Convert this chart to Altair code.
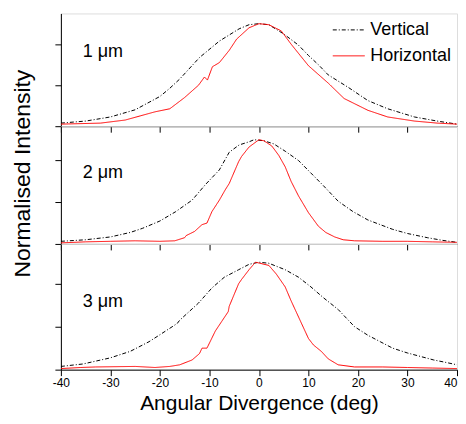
import altair as alt
import pandas as pd

FONT = "Liberation Sans"

# ---- data ----
# Panel 1 (1 um)
x_v1 = [-40, -35, -30, -25, -20, -18, -16, -12, -8, -4, -2, 0, 2, 5, 8, 10, 12, 14, 18, 22, 26, 31.4, 36, 40]
y_v1 = [0.03, 0.05, 0.09, 0.16, 0.29, 0.37, 0.46, 0.67, 0.83, 0.95, 0.99, 1.0, 0.99, 0.90, 0.79, 0.69, 0.60, 0.50, 0.38, 0.25, 0.17, 0.09, 0.05, 0.02]
x_h1 = [-40, -32, -27, -24, -21, -18, -15, -12.2, -11, -10.4, -9.4, -8, -6, -4.5, -2, 0, 2, 4.5, 6.5, 10, 14, 17.2, 22, 26, 31.4, 36, 40]
y_h1 = [0.02, 0.03, 0.06, 0.10, 0.14, 0.17, 0.28, 0.40, 0.48, 0.45, 0.58, 0.62, 0.74, 0.85, 0.96, 1.0, 0.99, 0.93, 0.80, 0.59, 0.42, 0.27, 0.155, 0.09, 0.05, 0.03, 0.02]

# Panel 2 (2 um)
x_v2 = [-40, -35, -30, -26, -23.5, -20, -16.8, -13.5, -10.8, -8, -6, -4, -2, -1, 1, 3, 5.3, 8, 10.5, 13, 16, 19, 22, 27, 30, 34, 37, 40]
y_v2 = [0.025, 0.04, 0.067, 0.11, 0.15, 0.22, 0.31, 0.42, 0.57, 0.71, 0.88, 0.95, 0.98, 1.0, 0.99, 0.96, 0.89, 0.80, 0.68, 0.56, 0.41, 0.31, 0.23, 0.14, 0.10, 0.06, 0.035, 0.015]
x_h2 = [-40, -35, -30, -25, -20, -17, -15, -14.7, -13, -11.5, -10.5, -9.5, -8, -6.8, -6, -4.1, -3.5, -2, 0, 1, 2.6, 4, 5.3, 6.5, 8, 10, 12, 13.5, 15.3, 17, 19.3, 25, 30, 35, 40]
y_h2 = [0.01, 0.02, 0.025, 0.03, 0.025, 0.03, 0.06, 0.08, 0.12, 0.185, 0.20, 0.31, 0.42, 0.52, 0.58, 0.79, 0.84, 0.93, 1.0, 0.99, 0.94, 0.85, 0.74, 0.60, 0.46, 0.30, 0.17, 0.11, 0.067, 0.04, 0.03, 0.025, 0.025, 0.02, 0.015]

# Panel 3 (3 um)
x_v3 = [-40, -35.5, -30, -26, -22.2, -20, -16.5, -16, -12.2, -9.5, -7, -4.1, -2, 0, 2, 5.3, 8, 10.5, 13, 16, 19.3, 22, 24.5, 27, 30, 35.3, 38, 40]
y_v3 = [0.03, 0.053, 0.11, 0.17, 0.26, 0.325, 0.43, 0.46, 0.62, 0.76, 0.86, 0.93, 0.98, 1.0, 0.99, 0.93, 0.86, 0.77, 0.67, 0.56, 0.40, 0.32, 0.26, 0.20, 0.155, 0.09, 0.065, 0.045]
x_h3 = [-40, -36, -33, -25, -21, -18, -16, -13.5, -12, -11.5, -10.5, -8.8, -7.5, -6.2, -6, -4.1, -3.5, -2, -0.7, 2, 3.5, 5.3, 6.5, 8, 10, 11, 12.6, 14, 16, 19.3, 25, 30, 35, 40]
y_h3 = [0.01, 0.02, 0.025, 0.03, 0.02, 0.03, 0.045, 0.09, 0.15, 0.20, 0.20, 0.36, 0.45, 0.54, 0.59, 0.80, 0.84, 0.93, 1.0, 0.97, 0.89, 0.77, 0.64, 0.49, 0.29, 0.23, 0.17, 0.10, 0.045, 0.025, 0.025, 0.02, 0.015, 0.01]

series_names = ["Vertical", "Horizontal"]
series_colors = ["#000000", "#ff0000"]
series_dash = [[4, 2, 1, 2], [1, 0]]

panel_labels = ["1 \u03bcm", "2 \u03bcm", "3 \u03bcm"]
label_x = [-35.6, -35.6, -35.6]
label_y = [0.72, 0.68, 0.63]
y_tops = [1.1, 1.13, 1.17]
heights = [113, 118, 126]

x_ticks = list(range(-40, 45, 5))
y_ticks = [round(i * 0.1, 1) for i in range(12)]


def panel_df(xv, yv, xh, yh):
    return pd.DataFrame({
        "x": list(xv) + list(xh),
        "y": list(yv) + list(yh),
        "series": ["Vertical"] * len(xv) + ["Horizontal"] * len(xh),
    })


data = [
    panel_df(x_v1, y_v1, x_h1, y_h1),
    panel_df(x_v2, y_v2, x_h2, y_h2),
    panel_df(x_v3, y_v3, x_h3, y_h3),
]

legend = alt.Legend(
    title=None, orient="none", legendX=272, legendY=0, padding=0,
    labelFont=FONT, labelFontSize=18, labelColor="black", labelLimit=300,
    symbolType="stroke", symbolSize=1024, symbolStrokeWidth=1,
    rowPadding=-13, labelOffset=5,
)

x_tick_size = {"condition": {"test": "datum.value % 10 === 0", "value": 6}, "value": 3}
y_tick_size = {"condition": {"test": "abs(datum.value * 5 - round(datum.value * 5)) < 0.001", "value": 6}, "value": 3}
x_label_align = {"condition": {"test": "datum.value === 40", "value": "right"}, "value": "center"}

panels = []
for i in range(3):
    last = i == 2
    if last:
        x_axis = alt.Axis(
            values=x_ticks, tickSize=x_tick_size, grid=False,
            labelExpr="datum.value % 10 === 0 ? '' + datum.value : ''",
            labelAlign=x_label_align,
            labelFont=FONT, labelFontSize=12, labelColor="black", labelPadding=2,
            title="Angular Divergence (deg)", titleFont=FONT, titleFontSize=21,
            titleFontWeight="normal", titleColor="black", titlePadding=4,
            domainColor="black", tickColor="black",
        )
    else:
        x_axis = alt.Axis(
            values=x_ticks, tickSize=x_tick_size, grid=False, labels=False,
            title=None, domainColor="black", tickColor="black",
        )
    if i == 1:
        y_axis = alt.Axis(
            values=y_ticks, tickSize=y_tick_size, grid=False, labels=False,
            title="Normalised Intensity", titleFont=FONT, titleFontSize=23,
            titleFontWeight="normal", titleColor="black", titlePadding=20,
            titleY=47,
            domainColor="black", tickColor="black",
        )
    else:
        y_axis = alt.Axis(
            values=y_ticks, tickSize=y_tick_size, grid=False, labels=False,
            title=None, domainColor="black", tickColor="black",
        )

    x_enc = alt.X("x:Q", scale=alt.Scale(domain=[-40, 40], nice=False), axis=x_axis)
    y_enc = alt.Y("y:Q", scale=alt.Scale(domain=[0, y_tops[i]], nice=False, zero=False), axis=y_axis)

    lines = alt.Chart(data[i]).mark_line(strokeWidth=1, clip=True).encode(
        x=x_enc,
        y=y_enc,
        color=alt.Color("series:N", scale=alt.Scale(domain=series_names, range=series_colors), legend=legend),
        strokeDash=alt.StrokeDash("series:N", scale=alt.Scale(domain=series_names, range=series_dash), legend=legend),
    )

    lab_df = pd.DataFrame({"x": [label_x[i]], "y": [label_y[i]], "t": [panel_labels[i]]})
    labels = alt.Chart(lab_df).mark_text(
        align="left", baseline="middle", font=FONT, fontSize=18, color="black"
    ).encode(x="x:Q", y="y:Q", text="t:N")

    panels.append(alt.layer(lines, labels).properties(width=397, height=heights[i]))

chart = alt.vconcat(*panels, spacing=0, bounds="flush").resolve_scale(
    y="independent"
).properties(
    padding={"left": 2, "top": 4, "right": 0, "bottom": 0}
).configure_view(
    stroke="black", strokeWidth=1
).configure(background="white")

chart.save("out.html", embed_options={"renderer": "svg", "actions": False})
